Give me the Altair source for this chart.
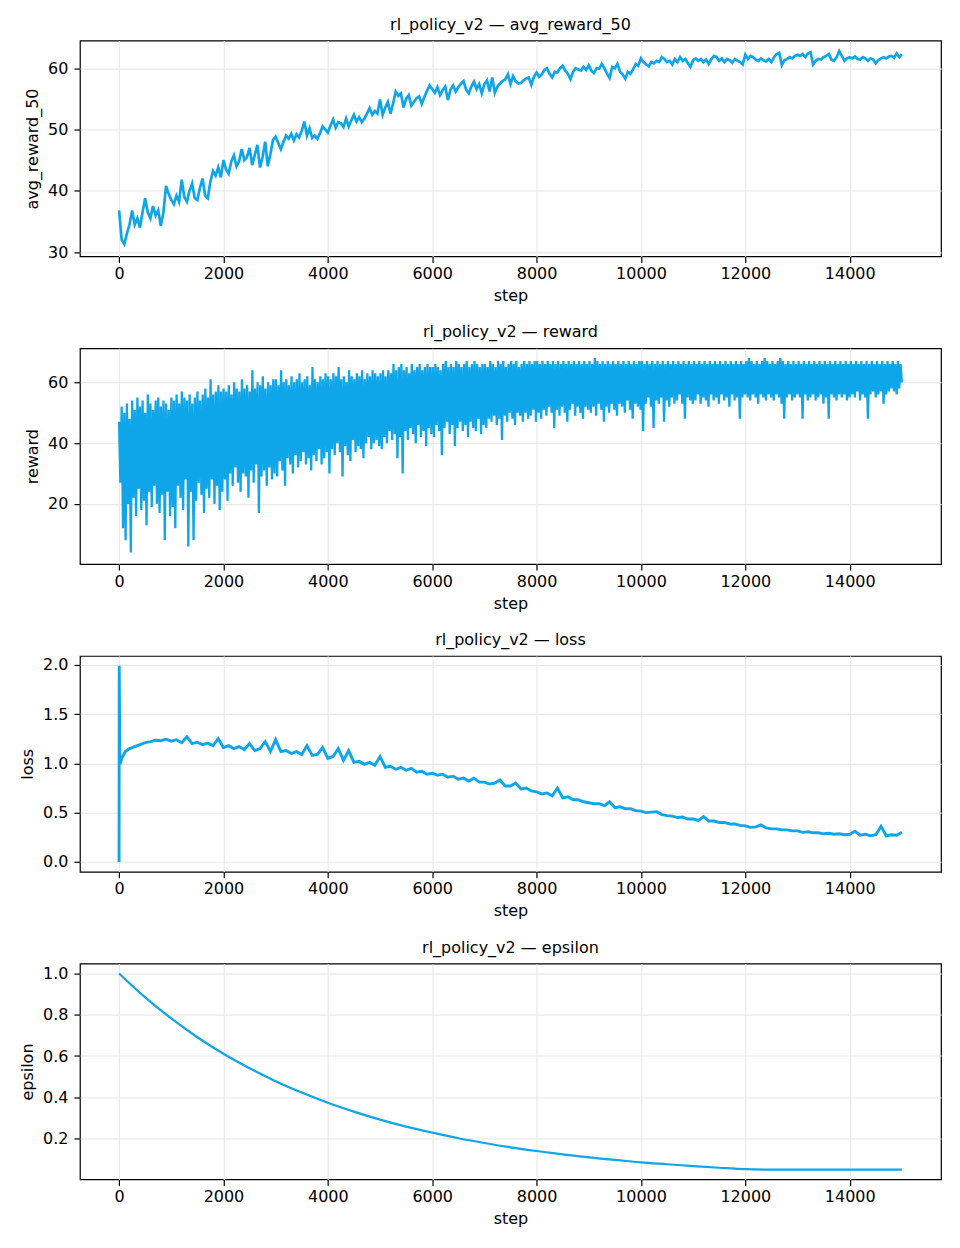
import altair as alt
import pandas as pd

FONT = "DejaVu Sans"
BLUE = "#0ea5e9"
RUN = "rl_policy_v2"

# avg_reward_50, sampled every ~50 steps (0 .. 14999)
avg_reward_50 = [
    36.8, 32.0, 31.3, 33.0, 34.5, 36.8, 34.5, 35.5, 34.0, 36.5, 38.8, 36.5, 35.5, 37.5, 36.0, 36.8, 34.3, 36.5, 40.8, 39.5,
    38.5, 37.8, 39.2, 38.2, 41.8, 39.0, 38.2, 40.0, 41.2, 38.8, 38.5, 40.5, 42.0, 39.2, 38.8, 41.5, 43.2, 42.5, 43.8, 42.2,
    45.0, 43.5, 42.8, 44.8, 45.8, 44.0, 44.8, 46.8, 45.0, 45.5, 47.0, 44.2, 45.8, 47.5, 43.8, 45.5, 48.0, 44.0, 46.0, 48.3,
    48.8, 47.8, 46.8, 48.0, 49.0, 48.5, 49.3, 48.2, 49.2, 48.7, 49.8, 51.3, 49.0, 50.2, 48.6, 49.0, 48.5, 49.4, 50.5, 50.0,
    49.5, 50.6, 51.6, 50.3, 51.2, 51.0, 50.4, 51.8, 50.5, 51.5, 52.4, 51.3, 52.0, 51.2, 51.8, 52.6, 53.5, 52.4, 53.0, 52.6,
    54.9, 52.4, 53.6, 54.5, 52.6, 54.2, 56.2, 55.5, 55.9, 53.6, 55.0, 55.6, 53.9, 54.5, 55.1, 55.4, 54.2, 55.3, 56.3, 57.2,
    56.6, 56.0, 56.9, 55.6, 56.4, 57.0, 54.8, 56.5, 57.2, 56.2, 56.9, 57.5, 57.9, 56.5, 55.9, 57.0, 57.8, 56.6, 57.4, 55.9,
    57.4, 58.0, 56.2, 58.5, 56.0, 57.0, 57.5, 57.9, 58.2, 59.0, 57.4, 58.7, 57.9, 57.5, 57.6, 58.0, 58.3, 58.5, 57.3, 58.6,
    59.3, 58.6, 59.0, 59.7, 60.0, 59.1, 58.5, 59.4, 59.3, 60.0, 60.4, 59.6, 59.1, 58.2, 59.4, 60.0, 59.8, 59.6, 60.2, 59.7,
    60.5, 59.6, 59.2, 60.0, 59.9, 60.7, 60.0, 59.1, 58.4, 60.2, 60.0, 60.7, 59.4, 59.0, 58.3, 59.4, 59.1, 59.8, 60.7, 60.4,
    61.6, 61.0, 60.6, 60.3, 61.0, 60.8, 61.2, 61.0, 61.8, 61.5, 61.0, 61.2, 60.6, 61.5, 61.0, 61.8, 61.2, 61.5, 60.8, 60.2,
    61.3, 61.6, 61.2, 61.5, 61.0, 61.4, 60.7, 61.5, 62.0, 61.8, 61.2, 61.6, 61.0, 61.5, 61.3, 60.9, 61.5, 61.2, 61.0, 60.6,
    62.2, 61.5, 62.0, 61.8, 61.4, 61.2, 61.6, 61.3, 61.1, 61.5, 61.0, 61.8, 62.3, 62.5, 60.5, 61.3, 61.5, 61.8, 61.6, 62.0,
    62.2, 62.0, 62.3, 61.8, 62.4, 62.6, 60.6, 61.2, 61.5, 61.4, 61.8, 62.0, 62.3, 61.4, 61.2, 61.8, 62.8, 62.0, 61.2, 61.6,
    61.8, 61.6, 61.9, 61.5, 61.4, 61.8, 61.6, 61.2, 61.6, 61.4, 60.8, 61.3, 61.6, 61.8, 61.6, 61.9, 62.0, 61.7, 62.4, 61.8, 62.3,
]

# reward, sampled every ~25 steps (high / low swings of the noisy episode reward)
reward = [
    47, 27, 52, 12, 50, 8, 53, 20, 48, 4, 54, 22, 51, 16, 55, 25, 52, 18, 54, 21,
    50, 13, 56, 24, 53, 19, 51, 26, 54, 20, 55, 17, 52, 23, 54, 8, 53, 24, 51, 16,
    55, 19, 54, 12, 56, 26, 53, 22, 57, 18, 55, 28, 54, 6, 56, 24, 53, 8, 55, 21,
    57, 27, 54, 23, 56, 17, 58, 25, 55, 22, 61, 28, 56, 20, 57, 26, 59, 18, 57, 24,
    58, 28, 57, 21, 59, 30, 56, 26, 60, 32, 58, 27, 57, 24, 61, 30, 58, 29, 59, 22,
    57, 31, 64, 27, 58, 33, 60, 17, 59, 29, 62, 31, 58, 26, 60, 32, 59, 28, 61, 30,
    61, 29, 59, 34, 64, 31, 60, 26, 61, 35, 59, 33, 62, 30, 60, 36, 61, 32, 63, 34,
    60, 37, 61, 33, 62, 35, 59, 31, 65, 36, 61, 34, 60, 38, 62, 33, 61, 35, 63, 37,
    62, 30, 61, 38, 63, 36, 62, 40, 65, 37, 61, 29, 62, 39, 60, 36, 64, 34, 62, 41,
    61, 37, 63, 39, 62, 38, 64, 35, 61, 40, 63, 42, 62, 38, 64, 40, 63, 41, 62, 39,
    63, 38, 64, 42, 62, 40, 64, 44, 63, 41, 66, 43, 64, 35, 65, 42, 66, 30, 64, 44,
    65, 41, 63, 45, 66, 43, 64, 40, 65, 46, 66, 42, 64, 44, 65, 39, 66, 45, 65, 43,
    65, 42, 66, 46, 65, 44, 64, 36, 66, 45, 67, 47, 65, 43, 66, 46, 65, 39, 67, 45,
    66, 47, 65, 44, 66, 46, 67, 42, 65, 47, 66, 45, 67, 44, 66, 48, 65, 43, 66, 46,
    66, 45, 65, 48, 67, 47, 66, 49, 65, 46, 67, 48, 66, 41, 67, 49, 65, 47, 66, 50,
    67, 48, 66, 46, 67, 50, 65, 49, 66, 47, 67, 50, 66, 48, 67, 49, 66, 51, 67, 47,
    67, 50, 66, 48, 67, 51, 66, 49, 67, 52, 66, 50, 67, 45, 66, 51, 67, 49, 66, 52,
    67, 50, 66, 47, 67, 51, 66, 53, 67, 49, 66, 52, 67, 50, 66, 48, 67, 52, 66, 51,
    67, 50, 66, 52, 68, 49, 67, 53, 66, 51, 67, 47, 66, 52, 67, 50, 66, 53, 67, 51,
    66, 49, 67, 53, 66, 52, 67, 50, 66, 54, 67, 51, 66, 48, 67, 53, 66, 52, 67, 51,
    67, 44, 66, 53, 67, 55, 66, 52, 67, 45, 66, 54, 67, 53, 66, 55, 67, 47, 66, 54,
    67, 52, 66, 55, 67, 53, 66, 54, 67, 56, 66, 53, 67, 48, 66, 55, 67, 54, 66, 53,
    67, 54, 66, 56, 67, 53, 66, 55, 67, 54, 66, 52, 67, 56, 66, 54, 67, 55, 66, 53,
    67, 56, 66, 54, 67, 55, 66, 52, 67, 56, 66, 54, 67, 55, 66, 48, 67, 55, 66, 56,
    67, 55, 68, 54, 67, 56, 66, 55, 67, 53, 66, 56, 67, 55, 68, 54, 67, 56, 66, 55,
    67, 54, 66, 56, 67, 55, 68, 53, 67, 48, 66, 55, 67, 56, 66, 54, 67, 55, 66, 56,
    67, 55, 66, 48, 67, 56, 66, 54, 67, 55, 66, 56, 67, 54, 66, 55, 67, 56, 66, 53,
    67, 55, 66, 48, 67, 56, 66, 55, 67, 54, 66, 56, 67, 55, 66, 56, 67, 54, 66, 55,
    67, 56, 66, 55, 67, 57, 66, 54, 67, 56, 66, 55, 67, 48, 66, 56, 67, 57, 66, 55,
    67, 56, 66, 57, 67, 53, 66, 56, 67, 57, 66, 58, 67, 57, 66, 56, 67, 58, 66, 60,
]

# loss: first few recorded steps, then every 100 steps from 200
loss_head_steps = [0, 3, 15, 60, 120]
loss_head = [0.0, 1.99, 0.99, 1.06, 1.12]
loss_tail = [
    1.15, 1.17, 1.19, 1.21, 1.22, 1.235, 1.23, 1.245,
    1.225, 1.24, 1.21, 1.27, 1.20, 1.215, 1.19, 1.205, 1.18, 1.25,
    1.16, 1.18, 1.15, 1.17, 1.14, 1.20, 1.13, 1.15, 1.22, 1.12,
    1.24, 1.12, 1.13, 1.10, 1.12, 1.09, 1.18, 1.08, 1.09, 1.16,
    1.05, 1.07, 1.15, 1.03, 1.13, 1.01, 1.02, 0.99, 1.01, 0.98,
    1.07, 0.96, 0.97, 0.94, 0.96, 0.93, 0.95, 0.91, 0.92, 0.89,
    0.90, 0.88, 0.89, 0.86, 0.87, 0.84, 0.85, 0.82, 0.85, 0.81,
    0.81, 0.79, 0.80, 0.83, 0.77, 0.77, 0.80, 0.74, 0.75, 0.72,
    0.71, 0.69, 0.70, 0.67, 0.75, 0.65, 0.66, 0.63, 0.63, 0.61,
    0.60, 0.59, 0.59, 0.57, 0.61, 0.55, 0.56, 0.54, 0.54, 0.52,
    0.515, 0.50, 0.505, 0.51, 0.48, 0.47, 0.465, 0.45, 0.455, 0.435,
    0.435, 0.42, 0.46, 0.415, 0.415, 0.40, 0.40, 0.385, 0.385, 0.37,
    0.365, 0.35, 0.355, 0.375, 0.345, 0.335, 0.335, 0.325, 0.325, 0.315,
    0.315, 0.30, 0.305, 0.295, 0.295, 0.285, 0.29, 0.28, 0.285, 0.275,
    0.28, 0.31, 0.27, 0.28, 0.265, 0.275, 0.36, 0.265, 0.275, 0.27,
    0.30,
]
loss_tail_start = 200
loss_tail_every = 100

# epsilon every 500 steps
epsilon = [
    1.0, 0.884, 0.782, 0.691, 0.611, 0.541, 0.478, 0.423, 0.374, 0.331,
    0.292, 0.258, 0.229, 0.202, 0.179, 0.158, 0.140, 0.124, 0.109, 0.097,
    0.085, 0.076, 0.067, 0.059, 0.052, 0.05, 0.05, 0.05, 0.05, 0.05, 0.05,
]
epsilon_every = 500

LAST_STEP = 14999


def spread(vals):
    n = len(vals)
    return [round(i * LAST_STEP / (n - 1)) for i in range(n)]


df_avg = pd.DataFrame({"step": spread(avg_reward_50), "avg_reward_50": avg_reward_50})
df_rew = pd.DataFrame({"step": spread(reward), "reward": reward})
loss_steps = loss_head_steps + [loss_tail_start + i * loss_tail_every for i in range(len(loss_tail))]
df_loss = pd.DataFrame({"step": loss_steps, "loss": loss_head + loss_tail})
df_eps = pd.DataFrame({"step": [min(i * epsilon_every, LAST_STEP) for i in range(len(epsilon))], "epsilon": epsilon})

X_TICKS = [0, 2000, 4000, 6000, 8000, 10000, 12000, 14000]


def panel(df, field, ydomain, yticks, fmt, interp="linear", sw=2.5):
    return alt.Chart(df).mark_line(
        color=BLUE, strokeWidth=sw, clip=True, interpolate=interp
    ).encode(
        x=alt.X("step:Q",
                scale=alt.Scale(domain=[-750, 15749], nice=False, zero=False),
                axis=alt.Axis(values=X_TICKS, format="d", title="step")),
        y=alt.Y(f"{field}:Q",
                scale=alt.Scale(domain=ydomain, nice=False, zero=False),
                axis=alt.Axis(values=yticks, format=fmt, title=field)),
    ).properties(
        width=862, height=216,
        title=alt.TitleParams(f"{RUN} \u2014 {field}"),
    )


p1 = panel(df_avg, "avg_reward_50", [29.3, 64.5], [30, 40, 50, 60], "d", sw=2.7)
p2 = panel(df_rew, "reward", [0.2, 71.2], [20, 40, 60], "d", sw=2.3)
p3 = panel(df_loss, "loss", [-0.1, 2.09], [0.0, 0.5, 1.0, 1.5, 2.0], ".1f", sw=2.9)
p4 = panel(df_eps, "epsilon", [0.0025, 1.0475], [0.2, 0.4, 0.6, 0.8, 1.0], ".1f", "monotone", sw=2.2)

chart = alt.vconcat(p1, p2, p3, p4, spacing=19).properties(
    padding={"left": 10, "top": 7, "right": 10, "bottom": 5}
).configure_axis(
    labelFont=FONT, titleFont=FONT, labelFontSize=16, titleFontSize=16,
    labelColor="black", titleColor="black", titleFontWeight="normal",
    tickColor="black", tickSize=6, tickWidth=1.2, domain=False,
    grid=True, gridColor="#e8e8e8", gridWidth=1.1,
).configure_axisX(
    labelPadding=3, titlePadding=6,
).configure_axisY(
    labelPadding=6, titlePadding=7,
).configure_view(
    stroke="black", strokeWidth=1.2,
).configure_title(
    font=FONT, fontSize=16, fontWeight="normal", color="black", offset=8, anchor="middle",
)

chart.save("out.html", embed_options={"renderer": "svg", "actions": False})
